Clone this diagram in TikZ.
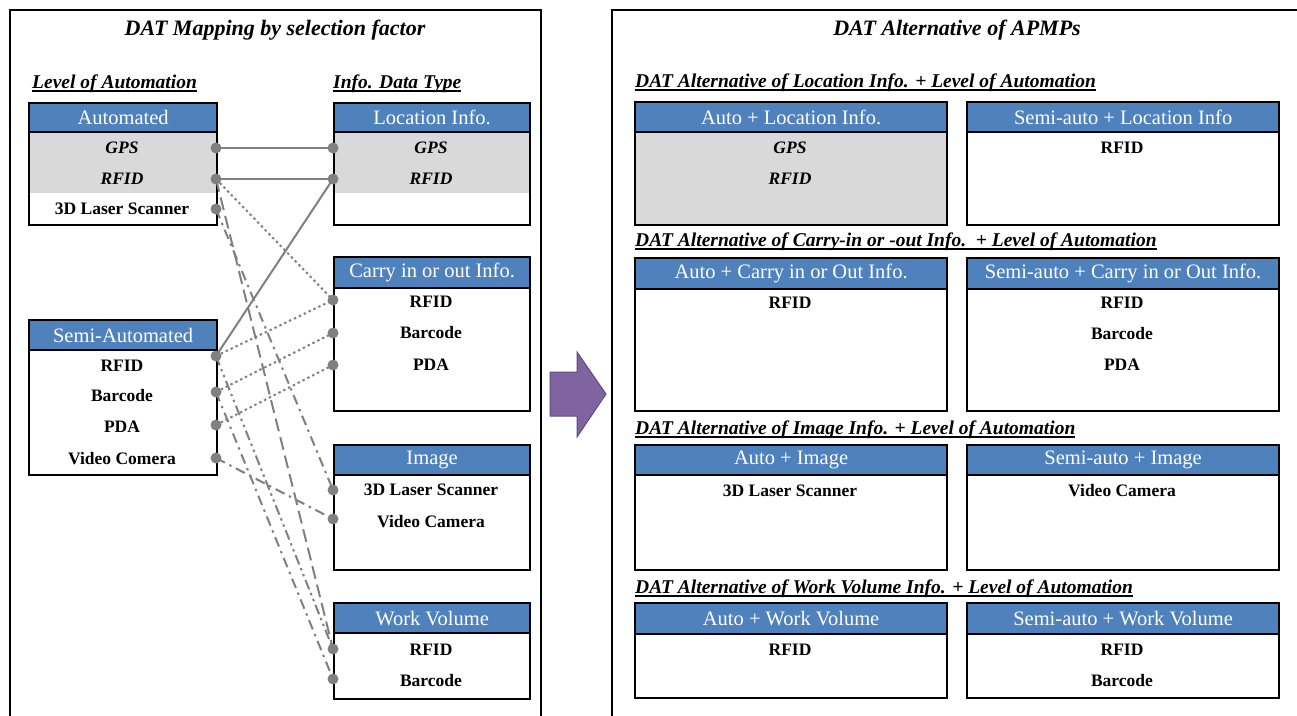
\documentclass[tikz,border=0pt]{standalone}
\usepackage{fontspec}
\setmainfont{Liberation Serif}
\definecolor{hblue}{RGB}{79,129,189}
\definecolor{cgray}{RGB}{217,217,217}
\definecolor{lgray}{RGB}{128,128,128}
\definecolor{apurple}{RGB}{128,100,162}
\definecolor{apurpled}{RGB}{95,74,128}
\newcommand\myul[1]{\setbox0\hbox{#1}\rlap{\rule[-2.8pt]{\wd0}{1.4pt}}\box0}
\begin{document}
\begin{tikzpicture}[x=1pt,y=-1pt,
  frame/.style={draw=black,line width=2.8pt},
  hdr/.style={draw=black,line width=2.2pt,fill=hblue,text=white,inner sep=0pt,anchor=north west,font=\fontsize{20.5}{20.5}\selectfont},
  bodybox/.style={draw=black,line width=2.2pt,inner sep=0pt,anchor=north west},
  item/.style={font=\bfseries\fontsize{17.5}{17.5}\selectfont,inner sep=0pt},
  itemi/.style={font=\bfseries\itshape\fontsize{17.5}{17.5}\selectfont,inner sep=0pt},
  ttl/.style={font=\bfseries\itshape\fontsize{22}{22}\selectfont,inner sep=0pt},
  sub/.style={font=\bfseries\itshape\fontsize{19.5}{19.5}\selectfont,inner sep=0pt,anchor=west},
  conn/.style={draw=lgray,line width=2pt},
  cdot/.style={conn,dash pattern=on 2.4pt off 3pt},
  clong/.style={conn,dash pattern=on 13pt off 6pt},
  cdd1/.style={conn,dash pattern=on 10pt off 5pt on 2.4pt off 5pt},
  cdd2/.style={conn,dash pattern=on 10pt off 4pt on 2.4pt off 4pt on 2.4pt off 4pt},
  port/.style={circle,fill=lgray,inner sep=0pt,minimum size=11pt},
  lw/.style={minimum width=188pt},
  rw/.style={minimum width=196pt},
  pw/.style={minimum width=312pt}
]
\useasboundingbox (0,0) rectangle (1297,715);
\clip (0,0) rectangle (1297,715);
\fill[white] (0,0) rectangle (1297,715);

% ---------- left panel ----------
\draw[frame] (10,10) rectangle (541,740);
\node[ttl] (t1) at (275,30) {DAT Mapping by selection factor};
\node[sub] (loa) at (32,84) {\myul{Level of Automation}};
\node[sub] (idt) at (333,84) {\myul{Info. Data Type}};

% gray bands
\fill[cgray] (28,131) rectangle (216,193);
\fill[cgray] (333,131) rectangle (529,193);

% Automated
\node[bodybox,lw,minimum height=93pt] (autob) at (28,131) {};
\node[hdr,lw,minimum height=29pt] (autoh) at (28,102) {Automated};
\node[itemi] (aGPS) at (122,148) {GPS};
\node[itemi] (aRFID) at (122,179) {RFID};
\node[item] (a3D) at (122,209) {3D Laser Scanner};

% Semi-Automated
\node[bodybox,lw,minimum height=125pt] (semib) at (28,349) {};
\node[hdr,lw,minimum height=30pt] (semih) at (28,319) {Semi-Automated};
\node[item] (sRFID) at (122,366) {RFID};
\node[item] (sBar) at (122,396) {Barcode};
\node[item] (sPDA) at (122,427) {PDA};
\node[item] (sVid) at (122,459) {Video Comera};

% Location Info.
\node[bodybox,rw,minimum height=93pt] (locb) at (333,131) {};
\node[hdr,rw,minimum height=29pt] (loch) at (333,102) {Location Info.};
\node[itemi] (lGPS) at (431,148) {GPS};
\node[itemi] (lRFID) at (431,179) {RFID};

% Carry
\node[bodybox,rw,minimum height=123pt] (carb) at (333,287) {};
\node[hdr,rw,minimum height=31pt] (carh) at (333,256) {Carry in or out Info.};
\node[item] (cRFID) at (431,302) {RFID};
\node[item] (cBar) at (431,333) {Barcode};
\node[item] (cPDA) at (431,365) {PDA};

% Image
\node[bodybox,rw,minimum height=95pt] (imgb) at (333,474) {};
\node[hdr,rw,minimum height=30pt] (imgh) at (333,444) {Image};
\node[item] (i3D) at (431,490) {3D Laser Scanner};
\node[item] (iVid) at (431,522) {Video Camera};

% Work Volume
\node[bodybox,rw,minimum height=66pt] (wvb) at (333,632) {};
\node[hdr,rw,minimum height=30pt] (wvh) at (333,602) {Work Volume};
\node[item] (wRFID) at (431,650) {RFID};
\node[item] (wBar) at (431,681) {Barcode};

% ports
\coordinate (paGPS) at (216,148);
\coordinate (paRFID) at (216,179);
\coordinate (pa3D) at (216,209);
\coordinate (psRFID) at (216,356);
\coordinate (psBar) at (216,392);
\coordinate (psPDA) at (216,425);
\coordinate (psVid) at (216,458);
\coordinate (plGPS) at (333,148);
\coordinate (plRFID) at (333,179);
\coordinate (pcRFID) at (333,300);
\coordinate (pcBar) at (333,333);
\coordinate (pcPDA) at (333,365);
\coordinate (pi3D) at (333,490);
\coordinate (piVid) at (333,519);
\coordinate (pwRFID) at (333,649);
\coordinate (pwBar) at (333,679);

% connectors
\draw[conn] (paGPS) -- (plGPS);
\draw[conn] (paRFID) -- (plRFID);
\draw[conn] (psRFID) -- (plRFID);
\draw[cdot] (paRFID) -- (pcRFID);
\draw[cdot] (psRFID) -- (pcRFID);
\draw[cdot] (psBar) -- (pcBar);
\draw[cdot] (psPDA) -- (pcPDA);
\draw[cdd1] (pa3D) -- (pi3D);
\draw[cdd1] (psVid) -- (piVid);
\draw[clong] (paRFID) -- (pwRFID);
\draw[cdd2] (psRFID) -- (pwRFID);
\draw[cdd1] (psBar) -- (pwBar);

\foreach \p in {paGPS,paRFID,pa3D,psRFID,psBar,psPDA,psVid,plGPS,plRFID,pcRFID,pcBar,pcPDA,pi3D,piVid,pwRFID,pwBar}
  \node[port] at (\p) {};

% ---------- arrow ----------
\draw[fill=apurple,draw=apurpled,line width=1pt] (550,372) -- (577,372) -- (577,352) -- (606,394) -- (577,437) -- (577,416) -- (550,416) -- cycle;

% ---------- right panel ----------
\draw[frame] (612,10) rectangle (1320,740);
\node[ttl] (t2) at (957,30) {DAT Alternative of APMPs};

\node[sub] (s1) at (635,83) {\myul{DAT Alternative of Location Info. + Level of Automation}};
\node[sub] (s2) at (635,242) {\myul{DAT Alternative of Carry-in or -out Info.\ \ + Level of Automation}};
\node[sub] (s3) at (635,430) {\myul{DAT Alternative of Image Info. + Level of Automation}};
\node[sub] (s4) at (635,589) {\myul{DAT Alternative of Work Volume Info. + Level of Automation}};

% row 1
\fill[cgray] (634,131) rectangle (946,224);
\node[bodybox,pw,minimum height=93pt] (r1ab) at (634,131) {};
\node[hdr,pw,minimum height=30pt] (r1ah) at (634,101) {Auto + Location Info.};
\node[itemi] (r1a1) at (790,148) {GPS};
\node[itemi] (r1a2) at (790,179) {RFID};
\node[bodybox,pw,minimum height=93pt] (r1bb) at (966,131) {};
\node[hdr,pw,minimum height=30pt] (r1bh) at (966,101) {Semi-auto + Location Info};
\node[item] (r1b1) at (1122,148) {RFID};

% row 2
\node[bodybox,pw,minimum height=122pt] (r2ab) at (634,288) {};
\node[hdr,pw,minimum height=31pt] (r2ah) at (634,257) {Auto + Carry in or Out Info.};
\node[item] (r2a1) at (790,303) {RFID};
\node[bodybox,pw,minimum height=122pt] (r2bb) at (966,288) {};
\node[hdr,pw,minimum height=31pt] (r2bh) at (966,257) {Semi-auto + Carry in or Out Info.};
\node[item] (r2b1) at (1122,303) {RFID};
\node[item] (r2b2) at (1122,334) {Barcode};
\node[item] (r2b3) at (1122,365) {PDA};

% row 3
\node[bodybox,pw,minimum height=95pt] (r3ab) at (634,474) {};
\node[hdr,pw,minimum height=30pt] (r3ah) at (634,444) {Auto + Image};
\node[item] (r3a1) at (790,491) {3D Laser Scanner};
\node[bodybox,pw,minimum height=95pt] (r3bb) at (966,474) {};
\node[hdr,pw,minimum height=30pt] (r3bh) at (966,444) {Semi-auto + Image};
\node[item] (r3b1) at (1122,491) {Video Camera};

% row 4
\node[bodybox,pw,minimum height=64pt] (r4ab) at (634,633) {};
\node[hdr,pw,minimum height=31pt] (r4ah) at (634,602) {Auto + Work Volume};
\node[item] (r4a1) at (790,650) {RFID};
\node[bodybox,pw,minimum height=64pt] (r4bb) at (966,633) {};
\node[hdr,pw,minimum height=31pt] (r4bh) at (966,602) {Semi-auto + Work Volume};
\node[item] (r4b1) at (1122,650) {RFID};
\node[item] (r4b2) at (1122,681) {Barcode};
\end{tikzpicture}
\end{document}
